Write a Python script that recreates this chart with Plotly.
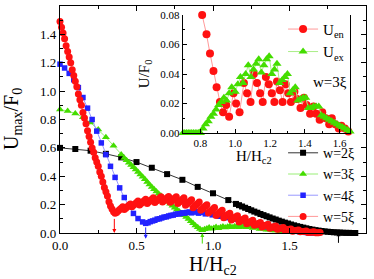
import plotly.graph_objects as go

# ---------------- main panel data ----------------
w2_x = [0.0, 0.1, 0.2, 0.3, 0.4, 0.5, 0.6, 0.7, 0.8, 0.9, 1.0, 1.1,
        1.15, 1.17, 1.19, 1.21, 1.23, 1.25, 1.27, 1.29, 1.31, 1.33, 1.35, 1.37, 1.39, 1.41,
        1.43, 1.45, 1.47, 1.49, 1.51, 1.53, 1.55, 1.57, 1.59, 1.61, 1.63, 1.65, 1.67, 1.69,
        1.71, 1.73, 1.75, 1.77, 1.79, 1.81, 1.83, 1.85, 1.87, 1.89, 1.91, 1.93]
w2_y = [0.600, 0.592, 0.580, 0.558, 0.533, 0.500, 0.460, 0.415, 0.375, 0.325, 0.280, 0.232,
        0.205, 0.196, 0.187, 0.178, 0.169, 0.160, 0.151, 0.143, 0.134, 0.126, 0.118, 0.110, 0.102, 0.095,
        0.087, 0.080, 0.073, 0.067, 0.060, 0.054, 0.048, 0.043, 0.038, 0.033, 0.028, 0.024, 0.020, 0.017,
        0.014, 0.011, 0.009, 0.007, 0.005, 0.004, 0.003, 0.002, 0.001, 0.001, 0.000, 0.000]

w3_x = [0.0, 0.05, 0.10, 0.15, 0.20, 0.25, 0.30, 0.35, 0.40,
        0.42, 0.435, 0.45, 0.465, 0.48, 0.495, 0.51, 0.525, 0.54, 0.555, 0.57, 0.585, 0.60, 0.615,
        0.63, 0.645, 0.66, 0.675, 0.69, 0.705, 0.72, 0.735, 0.75, 0.765, 0.78, 0.795, 0.81, 0.825,
        0.84, 0.855, 0.87, 0.885, 0.90, 0.915, 0.93,
        0.945, 0.96, 0.975, 0.99, 1.005, 1.02, 1.035, 1.05, 1.065, 1.08, 1.095, 1.11, 1.125, 1.14,
        1.155, 1.17, 1.185, 1.20, 1.215, 1.23, 1.245, 1.26, 1.275, 1.29, 1.305, 1.32, 1.335, 1.35,
        1.365, 1.38, 1.395, 1.41, 1.425, 1.44, 1.455, 1.47, 1.485, 1.50, 1.515, 1.53, 1.545, 1.56,
        1.575, 1.59, 1.605, 1.62, 1.635, 1.65]
w3_y = [0.870, 0.860, 0.843, 0.815, 0.778, 0.730, 0.675, 0.615, 0.553,
        0.528, 0.512, 0.496, 0.480, 0.463, 0.447, 0.430, 0.413, 0.396, 0.378, 0.360, 0.342, 0.325, 0.308,
        0.292, 0.277, 0.262, 0.248, 0.234, 0.220, 0.206, 0.192, 0.178, 0.165, 0.152, 0.139, 0.125, 0.112,
        0.098, 0.083, 0.068, 0.053, 0.040, 0.028, 0.020,
        0.026, 0.032, 0.038, 0.030, 0.036, 0.042, 0.034, 0.040, 0.046, 0.038, 0.044, 0.049, 0.040, 0.045,
        0.050, 0.041, 0.046, 0.050, 0.040, 0.044, 0.047, 0.035, 0.038, 0.040, 0.029, 0.031, 0.032, 0.023,
        0.024, 0.025, 0.018, 0.018, 0.019, 0.013, 0.013, 0.012, 0.010, 0.009, 0.008, 0.007, 0.006, 0.005,
        0.004, 0.003, 0.002, 0.001, 0.000, 0.000]

w4_x = [0.00, 0.03, 0.06, 0.09, 0.12, 0.15, 0.18, 0.21, 0.24, 0.27, 0.30, 0.33, 0.36, 0.39, 0.42,
        0.45, 0.48, 0.51, 0.54, 0.56,
        0.575, 0.59, 0.605, 0.62, 0.635, 0.65, 0.665, 0.68, 0.695, 0.71, 0.725, 0.74, 0.755, 0.77,
        0.785, 0.80, 0.815, 0.83, 0.845, 0.86, 0.875, 0.89, 0.905, 0.92, 0.935, 0.95, 0.965, 0.98,
        0.995, 1.01, 1.025, 1.04, 1.055, 1.07, 1.085, 1.10, 1.115, 1.13, 1.145, 1.16, 1.175, 1.19,
        1.205, 1.22, 1.235, 1.25, 1.265, 1.28, 1.295, 1.31, 1.325, 1.34, 1.355, 1.37, 1.385, 1.40,
        1.415, 1.43, 1.445, 1.46, 1.475, 1.49, 1.505, 1.52, 1.535, 1.55, 1.565, 1.58, 1.595, 1.61,
        1.625, 1.64, 1.655]
w4_y = [1.190, 1.163, 1.125, 1.080, 1.025, 0.955, 0.880, 0.800, 0.718, 0.635, 0.552, 0.470, 0.392, 0.318, 0.250,
        0.188, 0.138, 0.102, 0.078, 0.068,
        0.072, 0.080, 0.085, 0.090, 0.098, 0.100, 0.106, 0.112, 0.114, 0.120, 0.124, 0.126, 0.132, 0.134,
        0.136, 0.142, 0.140, 0.145, 0.148, 0.142, 0.148, 0.150, 0.140, 0.145, 0.147, 0.135, 0.140, 0.142,
        0.128, 0.132, 0.134, 0.118, 0.122, 0.124, 0.108, 0.112, 0.113, 0.097, 0.100, 0.101, 0.086, 0.089,
        0.090, 0.075, 0.078, 0.078, 0.064, 0.066, 0.066, 0.054, 0.055, 0.055, 0.044, 0.045, 0.044, 0.035,
        0.035, 0.034, 0.027, 0.026, 0.025, 0.019, 0.018, 0.017, 0.013, 0.012, 0.010, 0.008, 0.006, 0.004,
        0.002, 0.001, 0.000]

w5_x = [0.00, 0.01, 0.02, 0.03, 0.04, 0.05, 0.06, 0.07, 0.08, 0.09,
        0.10, 0.11, 0.12, 0.13, 0.14, 0.15, 0.16, 0.17, 0.18, 0.19,
        0.20, 0.21, 0.22, 0.23, 0.24, 0.25, 0.26, 0.27, 0.28, 0.29,
        0.30, 0.31, 0.32, 0.33, 0.34, 0.35, 0.36,
        0.37, 0.38, 0.39, 0.40, 0.41, 0.42, 0.43, 0.44, 0.45, 0.46,
        0.47, 0.48, 0.49, 0.50, 0.51, 0.52, 0.53, 0.54, 0.55, 0.56,
        0.57, 0.58, 0.59, 0.60, 0.61, 0.62, 0.63, 0.64, 0.65, 0.66,
        0.67, 0.68, 0.69, 0.70, 0.71, 0.72, 0.73, 0.74, 0.75, 0.76,
        0.77, 0.78, 0.79, 0.80, 0.81, 0.82, 0.83, 0.84, 0.85, 0.86,
        0.87, 0.88, 0.89, 0.90, 0.91, 0.92, 0.93, 0.94, 0.95, 0.96,
        0.97, 0.98, 0.99, 1.00, 1.01, 1.02, 1.03, 1.04, 1.05, 1.06,
        1.07, 1.08, 1.09, 1.10, 1.11, 1.12, 1.13, 1.14, 1.15, 1.16,
        1.17, 1.18, 1.19, 1.20, 1.21, 1.22, 1.23, 1.24, 1.25, 1.26,
        1.27, 1.28, 1.29, 1.30, 1.31, 1.32, 1.33, 1.34, 1.35, 1.36,
        1.37, 1.38, 1.39, 1.40, 1.41, 1.42, 1.43, 1.44, 1.45, 1.46,
        1.47, 1.48, 1.49, 1.50, 1.51, 1.52, 1.53, 1.54, 1.55, 1.56,
        1.57, 1.58, 1.59, 1.60, 1.61, 1.62, 1.63, 1.64, 1.65, 1.66,
        1.67, 1.68, 1.69, 1.70]
w5_y = [1.49, 1.45, 1.41, 1.37, 1.32, 1.28, 1.24, 1.20, 1.15, 1.11,
        1.07, 1.03, 0.98, 0.94, 0.90, 0.85, 0.81, 0.77, 0.72, 0.68,
        0.64, 0.60, 0.57, 0.53, 0.50, 0.47, 0.43, 0.40, 0.36, 0.32,
        0.29, 0.26, 0.22, 0.19, 0.17, 0.15, 0.14,
        0.145, 0.155, 0.165, 0.175, 0.185, 0.165, 0.175, 0.185, 0.195, 0.205,
        0.185, 0.195, 0.205, 0.215, 0.225, 0.198, 0.208, 0.218, 0.228, 0.238,
        0.208, 0.218, 0.228, 0.238, 0.248, 0.215, 0.225, 0.235, 0.245, 0.255,
        0.218, 0.228, 0.238, 0.248, 0.258, 0.216, 0.226, 0.236, 0.246, 0.256,
        0.208, 0.218, 0.228, 0.238, 0.248, 0.195, 0.205, 0.215, 0.225, 0.235,
        0.178, 0.188, 0.198, 0.208, 0.218, 0.160, 0.170, 0.180, 0.190, 0.200,
        0.141, 0.151, 0.160, 0.170, 0.179, 0.124, 0.133, 0.142, 0.151, 0.160,
        0.108, 0.116, 0.124, 0.132, 0.140, 0.092, 0.100, 0.107, 0.115, 0.122,
        0.077, 0.084, 0.091, 0.098, 0.105, 0.065, 0.071, 0.077, 0.083, 0.089,
        0.054, 0.059, 0.064, 0.069, 0.074, 0.043, 0.048, 0.052, 0.057, 0.061,
        0.033, 0.037, 0.041, 0.045, 0.049, 0.026, 0.029, 0.032, 0.035, 0.038,
        0.019, 0.022, 0.024, 0.027, 0.029, 0.013, 0.015, 0.017, 0.019, 0.021,
        0.008, 0.010, 0.011, 0.013, 0.014, 0.004, 0.005, 0.006, 0.007, 0.008,
        0.001, 0.002, 0.002, 0.003]

# transition fields marked by arrows: (x, tail y, head y, colour)
arrow_x = [0.355, 0.56, 0.93, 1.82]
arrow_tail = [0.11, 0.05, -0.085, -0.08]
arrow_head = [0.0, -0.04, 0.0, 0.005]
arrow_col = ["#ff0000", "#2222ff", "#44dd00", "#000000"]

# ---------------- inset data (w = 3 xi) ----------------
uen_x = [0.81, 0.835, 0.855, 0.875, 0.893, 0.912, 0.930, 0.948, 0.965, 0.99, 1.005, 1.025,
         1.05, 1.068, 1.088, 1.107, 1.125, 1.143, 1.158, 1.176, 1.193, 1.21, 1.225, 1.24,
         1.257, 1.272, 1.29, 1.305, 1.32, 1.34, 1.355, 1.375, 1.395, 1.41, 1.43, 1.45,
         1.465, 1.485, 1.50, 1.52, 1.54, 1.555, 1.575, 1.595, 1.61, 1.63, 1.65, 1.67]
uen_y = [0.080, 0.067, 0.054, 0.042, 0.031, 0.021, 0.014, 0.019, 0.011, 0.027, 0.020, 0.014,
         0.034, 0.027, 0.021, 0.040, 0.034, 0.027, 0.021, 0.038, 0.033, 0.027, 0.021, 0.035,
         0.029, 0.021, 0.033, 0.027, 0.021, 0.028, 0.023, 0.017, 0.024, 0.019, 0.013, 0.018,
         0.013, 0.009, 0.014, 0.010, 0.006, 0.010, 0.006, 0.003, 0.005, 0.003, 0.001, 0.000]

uex_x = [0.70, 0.71, 0.72, 0.73, 0.74, 0.75, 0.76, 0.77, 0.78, 0.79, 0.80,
         0.815, 0.83, 0.845, 0.86, 0.875, 0.89, 0.905, 0.92, 0.935, 0.95, 0.965, 0.98,
         1.00, 1.015, 1.03, 1.045, 1.06, 1.075, 1.09, 1.105, 1.12, 1.135, 1.15, 1.165, 1.18, 1.195,
         1.21, 1.225, 1.24, 1.255, 1.27, 1.285, 1.30, 1.315, 1.33, 1.345, 1.36, 1.375, 1.39, 1.405,
         1.42, 1.435, 1.45, 1.465, 1.48, 1.495, 1.51, 1.525, 1.54, 1.555, 1.57, 1.585, 1.60, 1.615,
         1.63, 1.645, 1.66]
uex_y = [0, 0, 0, 0, 0, 0, 0, 0, 0, 0, 0,
         0.003, 0.006, 0.008, 0.011, 0.013, 0.016, 0.019, 0.021, 0.024, 0.022, 0.027, 0.031,
         0.028, 0.033, 0.038, 0.034, 0.040, 0.046, 0.038, 0.043, 0.047, 0.050, 0.041, 0.046, 0.050, 0.052,
         0.040, 0.043, 0.047, 0.034, 0.036, 0.038, 0.040, 0.027, 0.029, 0.031, 0.022, 0.023, 0.024, 0.024,
         0.017, 0.017, 0.018, 0.018, 0.018, 0.012, 0.011, 0.010, 0.009, 0.008, 0.007, 0.006, 0.005, 0.004,
         0.003, 0.002, 0.001]

FONT = "Liberation Serif"

fig = go.Figure()

main_series = [
    ("w=2ξ", w2_x, w2_y, "square", 6, "#000000", "#333333"),
    ("w=3ξ", w3_x, w3_y, "triangle-up", 7, "#44dd00", "#99ee77"),
    ("w=4ξ", w4_x, w4_y, "square", 5.5, "#2222ff", "#9999ff"),
    ("w=5ξ", w5_x, w5_y, "circle", 7, "#ff1111", "#ff9999"),
]
for name, xs, ys, sym, sz, mc, lc in main_series:
    fig.add_trace(go.Scatter(
        x=xs, y=ys, mode="lines+markers", name=name,
        line=dict(color=lc, width=1),
        marker=dict(symbol=sym, size=sz, color=mc, line=dict(width=0)),
        cliponaxis=False, xaxis="x", yaxis="y", legend="legend"))

fig.add_trace(go.Scatter(
    x=uen_x, y=uen_y, mode="lines+markers", name="U<sub>en</sub>",
    line=dict(color="#ff9999", width=1),
    marker=dict(symbol="circle", size=8, color="#ff1111", line=dict(width=0)),
    cliponaxis=False, xaxis="x2", yaxis="y2", legend="legend2"))
fig.add_trace(go.Scatter(
    x=uex_x, y=uex_y, mode="lines+markers", name="U<sub>ex</sub>",
    line=dict(color="#aaee88", width=1),
    marker=dict(symbol="triangle-up", size=8, color="#44dd00", line=dict(width=0)),
    cliponaxis=False, xaxis="x2", yaxis="y2", legend="legend2"))

annotations = []
for ax_, tail, head, col in zip(arrow_x, arrow_tail, arrow_head, arrow_col):
    annotations.append(dict(
        x=ax_, y=head, ax=ax_, ay=tail, xref="x", yref="y", axref="x", ayref="y",
        text="", showarrow=True, arrowhead=2, arrowsize=0.8, arrowwidth=1, arrowcolor=col))

annotations += [
    dict(text="U<sub>max</sub>/F<sub>0</sub>", xref="paper", yref="paper", x=-0.155, y=0.5,
         xanchor="center", yanchor="middle",
         textangle=-90, showarrow=False, font=dict(size=20, family=FONT)),
    dict(text="H/H<sub>c2</sub>", xref="paper", yref="paper", x=0.5, y=-0.142,
         xanchor="center", yanchor="middle", showarrow=False, font=dict(size=20, family=FONT)),
    dict(text="U/F<sub>0</sub>", xref="paper", yref="paper", x=0.278, y=0.70,
         xanchor="center", yanchor="middle",
         textangle=-90, showarrow=False, font=dict(size=15, family=FONT)),
    dict(text="H/H<sub>c2</sub>", xref="paper", yref="paper", x=0.635, y=0.335,
         xanchor="center", yanchor="middle", showarrow=False, font=dict(size=15, family=FONT)),
    dict(text="w=3ξ", xref="paper", yref="paper", x=0.882, y=0.665,
         xanchor="center", yanchor="middle", showarrow=False, font=dict(size=15, family=FONT)),
]

axis_common = dict(showline=True, linecolor="black", linewidth=1.2, ticks="inside",
                   tickcolor="black", showgrid=False, zeroline=False)

fig.update_layout(
    width=374, height=279,
    margin=dict(l=60, r=8, t=6, b=46, autoexpand=False),
    paper_bgcolor="white", plot_bgcolor="white",
    font=dict(family=FONT, color="black", size=13),
    hovermode=False,
    xaxis=dict(domain=[0, 1], range=[0, 2], tick0=0, dtick=0.5, tickformat=".1f",
               ticklen=5, mirror="ticks", tickfont=dict(size=13),
               minor=dict(dtick=0.25, ticks="inside", ticklen=3, tickcolor="black"),
               **axis_common),
    yaxis=dict(domain=[0, 1], range=[0, 1.6], tick0=0, dtick=0.2, tickformat=".1f",
               ticklen=5, mirror="ticks", tickfont=dict(size=13),
               minor=dict(dtick=0.1, ticks="inside", ticklen=3, tickcolor="black"),
               **axis_common),
    xaxis2=dict(domain=[0.402, 0.948], anchor="y2", range=[0.7, 1.66], tick0=0.8, dtick=0.2,
                tickformat=".1f", ticklen=4, tickfont=dict(size=11),
                minor=dict(dtick=0.1, ticks="inside", ticklen=2, tickcolor="black"),
                **axis_common),
    yaxis2=dict(domain=[0.4405, 0.960], anchor="x2", range=[0, 0.08], tick0=0, dtick=0.02,
                tickformat=".2f", ticklen=4, tickfont=dict(size=11), mirror=True,
                minor=dict(dtick=0.01, ticks="inside", ticklen=2, tickcolor="black"),
                **axis_common),
    legend=dict(x=0.729, y=0.422, xanchor="left", yanchor="top", bgcolor="rgba(0,0,0,0)",
                font=dict(size=14, family=FONT), tracegroupgap=0, itemwidth=30),
    legend2=dict(x=0.729, y=0.97, xanchor="left", yanchor="top", bgcolor="rgba(0,0,0,0)",
                 font=dict(size=15, family=FONT), tracegroupgap=0, itemwidth=30),
    annotations=annotations,
    showlegend=True,
)

fig.write_html("out.html", config={"displayModeBar": False, "staticPlot": True},
               post_script="document.body.style.margin='0px';document.body.style.overflow='hidden';")
